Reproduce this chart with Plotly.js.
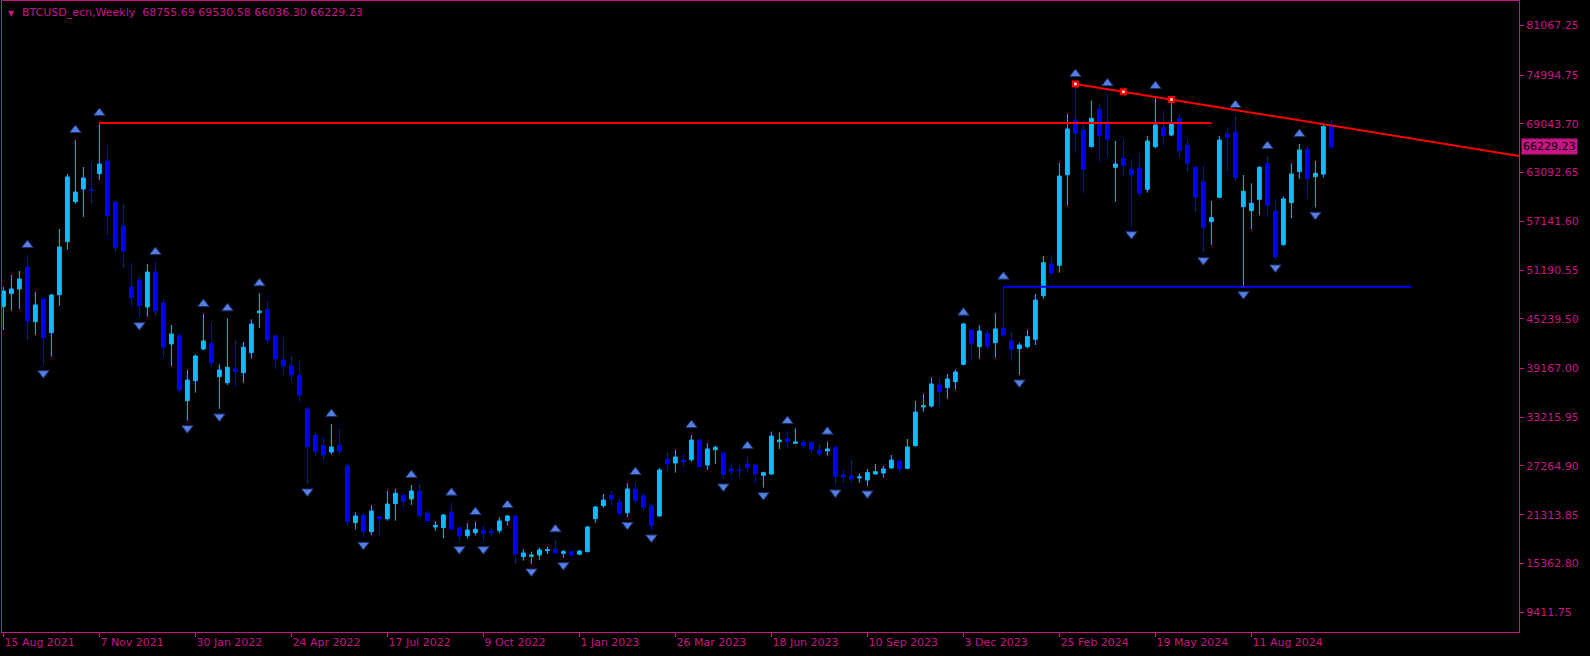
<!DOCTYPE html>
<html>
<head>
<meta charset="utf-8">
<script src="https://cdn.plot.ly/plotly-3.0.1.min.js"></script>
<style>html,body{margin:0;padding:0;background:#000;}#chart{width:1590px;height:656px;}</style>
</head>
<body>
<div id="chart"></div>
<script>
// ---- Data (weekly bars, index 0 = week of 15 Aug 2021) ----
const opens = [46720,48307,48877,51562,44889,47656,43546,48185,54655,59538,61084,61000,62956,64502,59497,56567,49121,49975,46679,50952,
47168,42160,43137,35243,37684,41550,42242,38172,37440,39108,38661,41102,45985,46392,43137,40207,39475,38335,34225,31010,
29749,28976,29790,27267,20349,21285,19250,21081,20837,22669,23686,23238,24215,21488,19820,19739,21651,19698,18762,19128,
19454,19291,19372,20593,21163,16198,16239,16402,16931,17094,16605,16809,16483,16809,20837,22424,23686,22872,21570,24418,
23604,22384,21163,28121,27633,27958,28040,30440,27388,29260,28853,26900,26778,27511,27388,26127,26290,30237,30603,30033,
30156,30115,29220,29098,29505,26168,26046,25802,25558,26290,26412,27023,27877,26982,29749,34469,34591,37155,36830,37562,
39678,43869,41835,43463,42323,44073,42527,41591,41835,42730,48061,51927,51764,62833,69506,68285,66251,70808,69262,63728,
64827,63484,63647,61042,66251,68571,67676,69710,66414,63728,61938,57095,60066,67798,68042,58927,58438,59822,64217,58398,
54288,59415,63199,65926,62589,62900,68755.69];
const highs = [49162,50586,51074,53027,48511,47700,48266,56201,62915,67065,63769,64380,69150,66455,59619,59253,52010,50464,51929,52173,
47656,44480,43463,38986,40899,45823,44846,39678,45294,42649,42405,45172,48346,47369,43218,42974,40777,40085,34510,31377,
30726,32394,31743,27511,21610,21488,22506,21163,24256,24459,23808,24947,25151,21814,20553,21407,22791,19861,20268,20430,
19942,19698,21000,21285,21200,17094,16809,17297,17419,18314,17012,16850,17012,19942,22384,23849,24215,23442,25151,25314,
23930,22628,27023,28935,29220,28691,31051,30500,30034,29749,28900,27633,27470,28487,27400,26575,31458,31376,31539,31865,
30440,30237,30033,30237,29749,26778,28081,26372,26900,27511,27267,28610,27900,30563,35202,36056,38050,38050,38498,39027,
44765,43900,44439,43869,45904,49160,43666,42323,43870,48265,52904,52985,64298,70239,73901,68896,71866,71460,72762,66943,
67268,64705,65518,67553,72437,70646,72152,70321,67269,63891,63891,59619,67554,68612,70117,62792,61775,63891,65112,59863,
60147,64217,66577,66333,64502,69000,69530.58];
const lows = [43872,46232,46435,42692,43262,39518,40617,46842,53678,59300,57666,59293,62182,55509,53434,51522,46842,45377,45499,45581,
40495,39475,36138,32801,36219,41428,39393,34225,37155,37033,37440,40370,44114,42242,39068,38335,37521,35120,25069,28488,
27877,28700,28732,19861,19535,18559,18843,18762,20593,20593,22302,22506,21000,20471,19372,18436,19372,18029,18436,18762,
18029,18640,19047,19983,15384,15710,15303,15791,16524,16600,16076,16198,16402,16700,20349,22180,22424,21204,21000,22709,
21814,19454,21081,26493,26453,27185,27795,27063,26778,27511,25679,26168,25761,26453,25272,24621,26168,29342,29423,29952,
29423,28731,28487,28528,24947,25232,25232,25232,24825,26250,25842,26941,26453,26900,29627,33900,34388,34510,35487,36586,
39550,40126,40370,41509,40492,43055,40085,38376,41631,42038,47695,50503,50869,59048,65518,60635,66170,64420,64908,59537,
62711,56485,60147,60635,66048,66455,67554,64827,63199,58316,53311,54247,59950,63321,61979,49160,56160,57869,57625,52416,
54166,57502,62345,59822,58845,62500,66036.30];
const closes = [48633,48877,50097,44971,46924,42936,48144,54004,62549,60718,62427,60900,64136,57829,53963,53515,47819,46842,50952,46191,
41797,43381,36545,37766,40695,42527,39882,38986,39312,38783,41753,44602,46189,42649,40329,39475,38376,35934,29627,29017,
28610,29587,29098,20471,21163,19250,21773,20837,22628,23930,22913,24215,21204,20593,20024,21285,19617,18762,19454,19535,
19006,19128,20553,21163,16524,16646,16402,17012,17053,16646,16809,16402,16890,19820,22262,23116,23238,21488,24459,23035,
22221,19983,26779,27511,28365,27755,30440,27185,29342,29545,26249,26656,26740,27063,26290,26453,30929,30440,30237,30196,
29749,29301,28731,29342,25965,25965,25680,25924,26453,26575,26900,27999,26900,29586,33859,34632,37277,36341,37888,38742,
44602,42242,43747,41835,43992,43259,41509,42038,43056,47532,52090,50869,62670,68408,67879,63484,69710,67594,67146,64135,
63931,62792,60554,66943,68896,67594,69100,65763,64217,60066,56404,57584,67065,67391,62467,60798,59334,63728,59049,52823,
59863,62915,65844,62345,62996,68700,66229.23];

const upFractals   = [3,9,12,19,25,28,32,41,51,56,59,63,69,79,86,93,98,103,120,125,134,138,144,154,158,162];
const downFractals = [5,17,23,27,38,45,57,60,66,70,78,81,90,95,104,108,127,141,150,155,159,164];

const dateLabels = ['15 Aug 2021','7 Nov 2021','30 Jan 2022','24 Apr 2022','17 Jul 2022','9 Oct 2022','1 Jan 2023',
  '26 Mar 2023','18 Jun 2023','10 Sep 2023','3 Dec 2023','25 Feb 2024','19 May 2024','11 Aug 2024'];
const priceTicks = [81067.25,74994.75,69043.70,63092.65,57141.60,51190.55,45239.50,39167.00,33215.95,27264.90,21313.85,15362.80,9411.75];

// objects drawn on the chart
const resistanceStart = 12, resistanceEnd = 151;      // red horizontal (from high of week 12)
const supportStart = 125, supportEnd = 176;           // blue horizontal (from high of week 125)
const trendWeeks = [134, 146];
const trendPrices = [73901, 72000];

const symbolName = 'BTCUSD_ecn,Weekly';

// ---- Styles ----
const MAG = '#C71585';
const UP = '#00BFFF';
const DN = '#0000FF';
const FONT = 'DejaVu Sans, Verdana, sans-serif';

const idx = opens.map((_, i) => i);
const xRange = [-0.175, 189.45];
const yRange = [6998, 84034];
const plotH = 656 - 1 - 24;
const pricePerPx = (yRange[1] - yRange[0]) / plotH;

const n = closes.length;
const last = n - 1;

const traces = [];
traces.push({
  type: 'candlestick', x: idx, open: opens, high: highs, low: lows, close: closes,
  increasing: {line: {color: UP, width: 1}, fillcolor: UP},
  decreasing: {line: {color: DN, width: 1}, fillcolor: DN},
  whiskerwidth: 0, hoverinfo: 'skip', showlegend: false
});

// red horizontal
traces.push({type: 'scatter', mode: 'lines', x: [resistanceStart, resistanceEnd],
  y: [highs[resistanceStart], highs[resistanceStart]], line: {color: '#FF0000', width: 2}, hoverinfo: 'skip'});
// blue horizontal
traces.push({type: 'scatter', mode: 'lines', x: [supportStart, supportEnd],
  y: [highs[supportStart], highs[supportStart]], line: {color: '#0000FF', width: 2}, hoverinfo: 'skip'});
// trend ray
const slope = (trendPrices[1] - trendPrices[0]) / (trendWeeks[1] - trendWeeks[0]);
const rayEnd = xRange[1] + 2;
traces.push({type: 'scatter', mode: 'lines', x: [trendWeeks[0], rayEnd],
  y: [trendPrices[0], trendPrices[0] + slope * (rayEnd - trendWeeks[0])], line: {color: '#FF0000', width: 2}, hoverinfo: 'skip'});
const midW = (trendWeeks[0] + trendWeeks[1]) / 2;
const anchorX = [trendWeeks[0], midW, trendWeeks[1]];
const anchorY = [trendPrices[0], trendPrices[0] + slope * (midW - trendWeeks[0]), trendPrices[1]];
traces.push({type: 'scatter', mode: 'markers', x: anchorX, y: anchorY,
  marker: {symbol: 'square', size: 7, color: '#FF0000', line: {width: 0}}, hoverinfo: 'skip'});
traces.push({type: 'scatter', mode: 'markers', x: anchorX, y: anchorY,
  marker: {symbol: 'square', size: 2.5, color: '#FFFFFF', line: {width: 0}}, hoverinfo: 'skip'});

// fractals
traces.push({type: 'scatter', mode: 'markers', x: upFractals,
  y: upFractals.map(i => highs[i] + 10 * pricePerPx),
  marker: {symbol: 'triangle-up', size: 10, color: '#5580E0', line: {color: '#1C2E70', width: 1}}, hoverinfo: 'skip'});
traces.push({type: 'scatter', mode: 'markers', x: downFractals,
  y: downFractals.map(i => lows[i] - 7.5 * pricePerPx),
  marker: {symbol: 'triangle-down', size: 10, color: '#5580E0', line: {color: '#1C2E70', width: 1}}, hoverinfo: 'skip'});

const fmt = v => v.toFixed(2);

const layout = {
  width: 1590, height: 656,
  paper_bgcolor: '#000000', plot_bgcolor: '#000000',
  margin: {l: 2, r: 71, t: 1, b: 24, pad: 0},
  showlegend: false,
  font: {family: FONT, size: 11, color: MAG},
  xaxis: {
    range: xRange, fixedrange: true, showgrid: false, zeroline: false,
    tickmode: 'array', tickvals: dateLabels.map((_, k) => k * 12), ticktext: dateLabels,
    ticks: 'outside', ticklen: 4, tickcolor: MAG, tickwidth: 1,
    ticklabelposition: 'outside right',
    showline: true, linecolor: MAG, linewidth: 1, mirror: true,
    tickfont: {family: FONT, size: 11, color: MAG},
    rangeslider: {visible: false}
  },
  yaxis: {
    range: yRange, fixedrange: true, side: 'right', showgrid: false, zeroline: false,
    tickmode: 'array', tickvals: priceTicks, ticktext: priceTicks.map(fmt),
    ticks: 'outside', ticklen: 4, tickcolor: MAG, tickwidth: 1,
    showline: true, linecolor: MAG, linewidth: 1, mirror: true,
    tickfont: {family: FONT, size: 11, color: MAG}
  },
  annotations: [
    {xref: 'paper', yref: 'paper', x: 0, y: 1, xanchor: 'left', yanchor: 'top', xshift: 4, yshift: -6,
     text: '▼', showarrow: false, font: {family: FONT, size: 8, color: MAG}},
    {xref: 'paper', yref: 'paper', x: 0, y: 1, xanchor: 'left', yanchor: 'top', xshift: 18, yshift: -3,
     text: symbolName + '\u00a0\u00a0' + [opens[last], highs[last], lows[last], closes[last]].map(fmt).join(' '),
     showarrow: false, font: {family: FONT, size: 11, color: MAG}},
    {xref: 'paper', yref: 'y', x: 1, y: closes[last], xanchor: 'left', yanchor: 'middle', xshift: 2,
     text: fmt(closes[last]), showarrow: false, bgcolor: MAG, borderpad: 1,
     font: {family: FONT, size: 11, color: '#000000'}}
  ]
};

Plotly.newPlot('chart', traces, layout, {staticPlot: true, displayModeBar: false});
</script>
</body>
</html>
